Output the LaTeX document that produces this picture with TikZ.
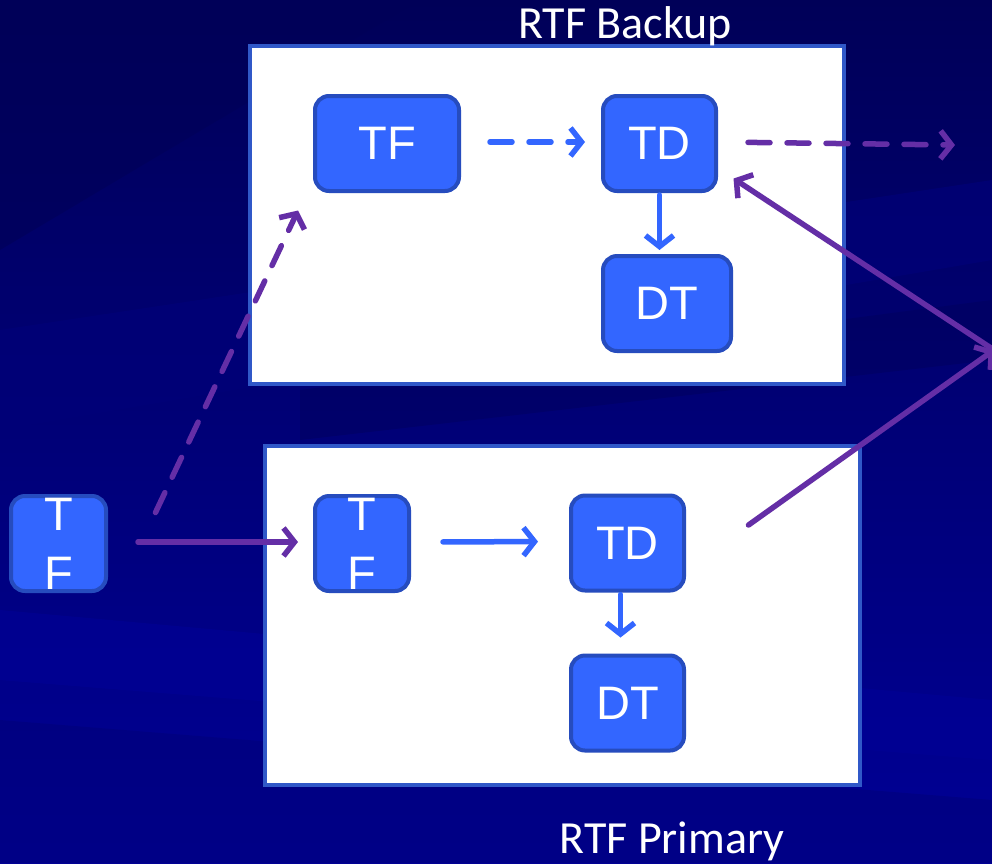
\documentclass[tikz,border=0pt]{standalone}
\usepackage{fontspec}
\usepackage{tikz}
\usetikzlibrary{arrows.meta}
\setmainfont{Liberation Sans}
\newfontfamily\blkfont{Liberation Sans}
\newfontfamily\labelfont{Carlito}
\definecolor{bgDark}{RGB}{0,0,88}
\definecolor{bgMid}{RGB}{0,0,120}
\definecolor{bgLight}{RGB}{0,0,150}
\definecolor{blkFill}{RGB}{51,102,255}
\definecolor{blkLine}{RGB}{38,76,190}
\definecolor{frmLine}{RGB}{48,88,200}
\definecolor{arrBlue}{RGB}{51,102,255}
\definecolor{arrPurple}{RGB}{100,46,166}
\tikzset{
	blk/.style={draw=blkLine, fill=blkFill, line width=4pt, rounded corners=14pt, text=white,
		minimum height=95pt, inner sep=0pt, align=center,
		font=\blkfont\fontsize{47}{59}\selectfont},
	frm/.style={draw=frmLine, fill=white, line width=4.5pt},
	lbl/.style={text=white, anchor=base, font=\labelfont\fontsize{46}{50}\selectfont},
	link/.style={line width=5.5pt, line cap=round, -{Straight Barb[length=11pt,width=28pt]}},
	dashlink/.style={link, dash pattern=on 22pt off 17pt}
}
\newcommand{\frm}[4]{\draw[frm] (#1,#2) rectangle (#3,#4);}
\newcommand{\blk}[5]{\node[blk, minimum width=#4pt-4pt] (#1) at (#2,#3) {#5};}

\begin{document}
\begin{tikzpicture}[x=1pt, y=-1pt]
		% background
		\useasboundingbox (0,0) rectangle (992,863);
		\shade[top color=bgDark, bottom color=bgLight] (0,0) rectangle (992,863);
		\fill[bgDark, opacity=.6] (0,0) -- (420,0) -- (0,250) -- cycle;
		\fill[bgMid, opacity=.7] (0,330) -- (992,180) -- (992,260) -- (0,430) -- cycle;
		\fill[bgDark, opacity=.4] (300,390) -- (992,300) -- (992,360) -- (300,440) -- cycle;
		\fill[bgLight, opacity=.6] (0,610) -- (992,700) -- (992,760) -- (0,680) -- cycle;
		\fill[bgMid, opacity=.5] (0,720) -- (992,800) -- (992,863) -- (0,863) -- cycle;
		
		% frames
		\frm{250}{46}{844}{384}
		\frm{265}{446}{860}{785}
		\node[lbl] (bkp) at (625,38) {RTF Backup};
		\node[lbl] (pri) at (672,853) {RTF Primary};
		
		% backup
		\blk{btf}{387}{143.5}{148}{TF}
		\blk{btd}{659.5}{143.5}{117}{TD}
		\blk{bdt}{667}{303.5}{132}{DT}
		
		% primary
		\blk{ptf}{362}{543.5}{98}{T\\F}
		\blk{ptd}{627.5}{543}{117}{TD}
		\blk{pdt}{627.5}{703}{117}{DT}
		
		% source
		\blk{ltf}{58.5}{543.5}{99}{T\\F}
		
		\coordinate (out) at (955,145);
		\coordinate (rt) at (994,350);
		
		% links
		\draw[dashlink, arrBlue, shorten <=29pt, shorten >=16pt] ([yshift=1.5pt]btf.east) -- ([yshift=1.5pt]btd.west);
		\draw[dashlink, arrPurple, shorten <=30pt] ([yshift=1.5pt]btd.east) -- (out);
		\draw[link, arrBlue, shorten <=2pt, shorten >=4pt] (btd.south) -- (btd.south |- bdt.north);
		
		\draw[link, arrBlue, shorten <=32pt, shorten >=31pt] ([yshift=1.5pt]ptf.east) -- ([yshift=1.5pt]ptd.west);
		\draw[link, arrBlue, shorten <=2pt, shorten >=16pt] ([xshift=-7pt]ptd.south) -- ([xshift=-7pt]pdt.north);
		
		\draw[link, arrPurple, shorten <=30pt, shorten >=15pt] ([yshift=1.5pt]ltf.east) -- ([yshift=1.5pt]ptf.west);
		\draw[dashlink, arrPurple] ([shift={(97,-31)}]ltf.center) -- ([shift={(-89,67)}]btf.center);
		
		\draw[link, arrPurple] ([shift={(121,-18)}]ptd.center) -- (rt);
		\draw[link, arrPurple] (rt) -- ([shift={(74,35)}]btd.center);
	\end{tikzpicture}
\end{document}
